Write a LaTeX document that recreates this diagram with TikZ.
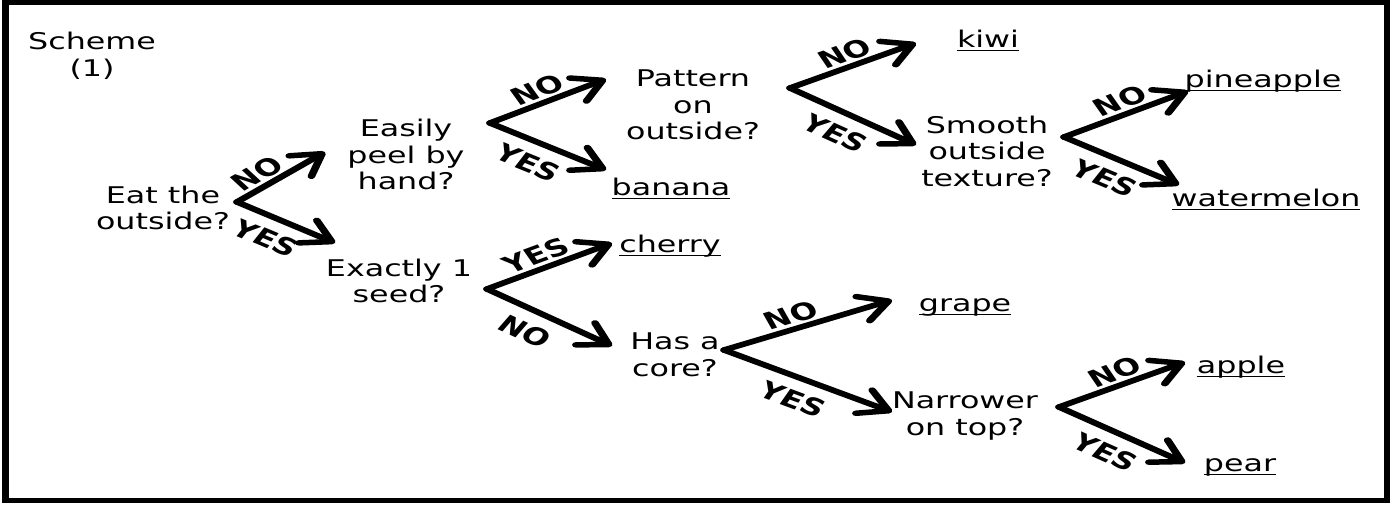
\documentclass[tikz,border=0pt]{standalone}
\usepackage{fontspec}
\setmainfont{DejaVu Sans}
\usetikzlibrary{arrows.meta}
\newcommand\fruitline[1]{\setbox0=\hbox{#1}\rlap{\rule[-4.2pt]{\wd0}{1.7pt}}\box0}
\begin{document}
\begin{tikzpicture}
\useasboundingbox (0pt,0pt) rectangle (1390pt,-504pt);
\begin{scope}[transform canvas={xscale=1.38}, x=0.724638pt, y=-1pt,
  qtext/.style={align=center, inner sep=0pt, font=\fontsize{23}{26.5}\selectfont},
  fruit/.style={anchor=base, inner sep=0pt, font=\fontsize{23}{26.5}\selectfont},
  arr/.style={line width=5.5pt, line cap=round, -{Straight Barb[length=20pt,width=26pt,round]}},
  lblup/.style={sloped, above, inner sep=2pt, font=\bfseries\fontsize{23.5}{23.5}\selectfont},
  lbldn/.style={sloped, below, inner xsep=0pt, inner ysep=9.5pt, font=\bfseries\fontsize{23.5}{23.5}\selectfont},
  frame/.style={line width=5pt}
]
\draw[frame] (5.5,2.5) rectangle (1387,500);

% question nodes
\node[qtext] (scheme) at (92,56) {Scheme\\(1)};
\node[qtext] (q1) at (163,208) {Eat the\\outside?};
\node[qtext] (q2) at (406,154.5) {Easily\\peel by\\hand?};
\node[qtext] (q3) at (399,281) {Exactly 1\\seed?};
\node[qtext] (q4) at (693,105) {Pattern\\on\\outside?};
\node[qtext] (q5) at (987,151) {Smooth\\outside\\texture?};
\node[qtext] (q6) at (675,355) {Has a\\core?};
\node[qtext] (q7) at (965,416) {Narrower\\on top?};

% fruit nodes
\node[fruit] (kiwi) at (988,47) {\fruitline{kiwi}};
\node[fruit] (banana) at (671,195) {\fruitline{banana}};
\node[fruit] (cherry) at (670,252) {\fruitline{cherry}};
\node[fruit] (pineapple) at (1263,87) {\fruitline{pineapple}};
\node[fruit] (watermelon) at (1266,206) {\fruitline{watermelon}};
\node[fruit] (grape) at (965,311) {\fruitline{grape}};
\node[fruit] (apple) at (1241,373) {\fruitline{apple}};
\node[fruit] (pear) at (1240,471) {\fruitline{pear}};

% fork points and arrow tips
\coordinate (q1f) at (237,202); \coordinate (q1n) at (325,152); \coordinate (q1y) at (335,243);
\coordinate (q2f) at (490,123); \coordinate (q2n) at (606,79);  \coordinate (q2y) at (606,170);
\coordinate (q3f) at (487,289); \coordinate (q3y) at (612,243); \coordinate (q3n) at (612,346);
\coordinate (q4f) at (790,88);  \coordinate (q4n) at (916,43);  \coordinate (q4y) at (916,145);
\coordinate (q5f) at (1064,137);\coordinate (q5n) at (1188,91); \coordinate (q5y) at (1179,185);
\coordinate (q6f) at (724,350); \coordinate (q6n) at (892,300); \coordinate (q6y) at (892,412);
\coordinate (q7f) at (1059,407);\coordinate (q7n) at (1185,362);\coordinate (q7y) at (1185,463);

\draw[arr] (q1f) -- node[lblup,pos=0.36] {NO} (q1n);
\draw[arr] (q1f) -- node[lbldn,pos=0.44] {YES} (q1y);
\draw[arr] (q2f) -- node[lblup,pos=0.48] {NO} (q2n);
\draw[arr] (q2f) -- node[lbldn,pos=0.45] {YES} (q2y);
\draw[arr] (q3f) -- node[lblup,pos=0.46] {YES} (q3y);
\draw[arr] (q3f) -- node[lbldn,pos=0.43] {NO} (q3n);
\draw[arr] (q4f) -- node[lblup,pos=0.50] {NO} (q4n);
\draw[arr] (q4f) -- node[lbldn,pos=0.48] {YES} (q4y);
\draw[arr] (q5f) -- node[lblup,pos=0.52] {NO} (q5n);
\draw[arr] (q5f) -- node[lbldn,pos=0.48] {YES} (q5y);
\draw[arr] (q6f) -- node[lblup,pos=0.44] {NO} (q6n);
\draw[arr] (q6f) -- node[lbldn,pos=0.49] {YES} (q6y);
\draw[arr] (q7f) -- node[lblup,pos=0.51] {NO} (q7n);
\draw[arr] (q7f) -- node[lbldn,pos=0.49] {YES} (q7y);
\end{scope}
\end{tikzpicture}
\end{document}
